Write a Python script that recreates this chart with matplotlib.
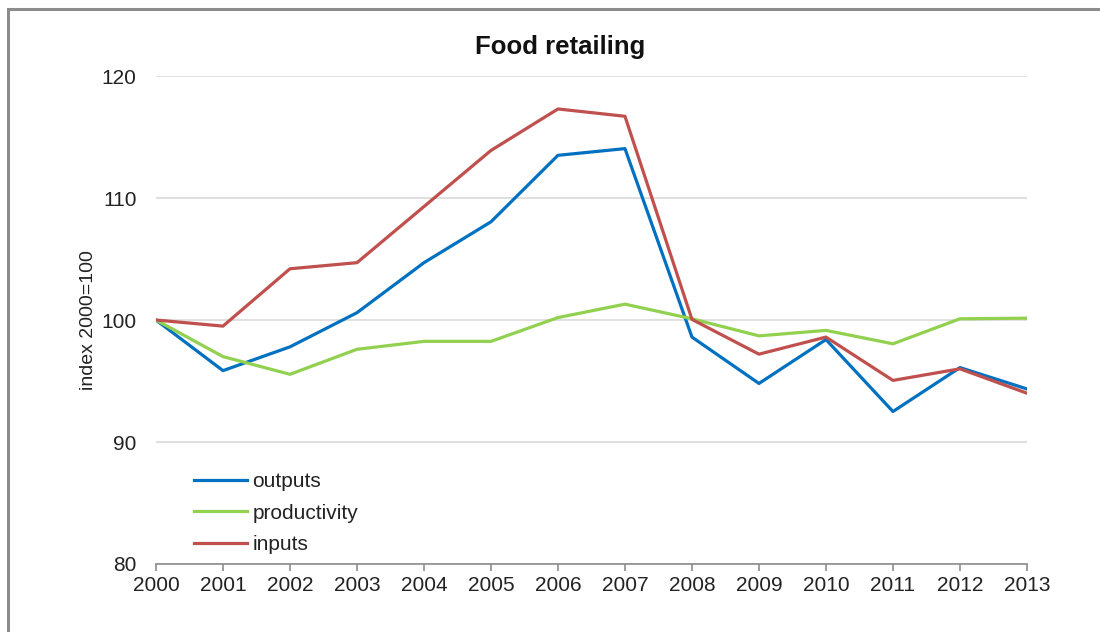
import matplotlib.pyplot as plt
from matplotlib.patches import Rectangle

plt.rcParams['font.family'] = ['Liberation Sans', 'DejaVu Sans']

years = list(range(2000, 2014))
outputs = [100.0, 95.85, 97.8, 100.6, 104.7, 108.05, 113.5, 114.05,
           98.6, 94.8, 98.4, 92.5, 96.1, 94.35]
productivity = [100.0, 97.0, 95.55, 97.6, 98.25, 98.25, 100.2, 101.3,
                100.1, 98.7, 99.15, 98.05, 100.1, 100.15]
inputs = [100.0, 99.5, 104.2, 104.7, 109.3, 113.9, 117.3, 116.7,
          100.05, 97.2, 98.6, 95.05, 96.0, 94.0]

fig = plt.figure(figsize=(11, 6.32), dpi=100)
ax = fig.add_axes([0.1418, 0.1076, 0.7918, 0.7721])

# outer frame (only left and top edges are visible)
fig.patches.append(Rectangle((8 / 1100, -0.1), 1.2, 1 - 9 / 632 + 0.1,
                             transform=fig.transFigure, fill=False,
                             edgecolor='#8c8c8c', linewidth=2.2))

ax.plot(years, outputs, color='#0070C0', linewidth=2.3, label='outputs')
ax.plot(years, productivity, color='#92D050', linewidth=2.3, label='productivity')
ax.plot(years, inputs, color='#C0504D', linewidth=2.3, label='inputs')

ax.set_xlim(2000, 2013)
ax.set_ylim(80, 120)
ax.set_xticks(years)
ax.set_yticks([80, 90, 100, 110, 120])
ax.grid(axis='y', color='#d9d9d9', linewidth=1.2)
ax.set_axisbelow(True)

for side in ['left', 'right', 'top']:
    ax.spines[side].set_visible(False)
ax.spines['bottom'].set_color('#8c8c8c')
ax.spines['bottom'].set_linewidth(1.2)
ax.tick_params(axis='x', length=5, width=1.2, color='#8c8c8c',
               labelsize=15, pad=4, labelcolor='#222222')
ax.tick_params(axis='y', length=0, labelsize=15, pad=14, labelcolor='#222222')

ax.set_ylabel('index 2000=100', fontsize=14, color='#222222', labelpad=3.5)
fig.text(0.509, 0.926, 'Food retailing', ha='center', va='center',
         fontsize=18.5, fontweight='bold', color='#111111')

leg = ax.legend(loc='center left', bbox_to_anchor=(0.034, 0.104), frameon=False,
                fontsize=15, handlelength=2.55, handletextpad=0.25,
                labelspacing=0.6, borderaxespad=0)
for t in leg.get_texts():
    t.set_color('#222222')

fig.savefig('out.png', dpi=100, facecolor='white')
